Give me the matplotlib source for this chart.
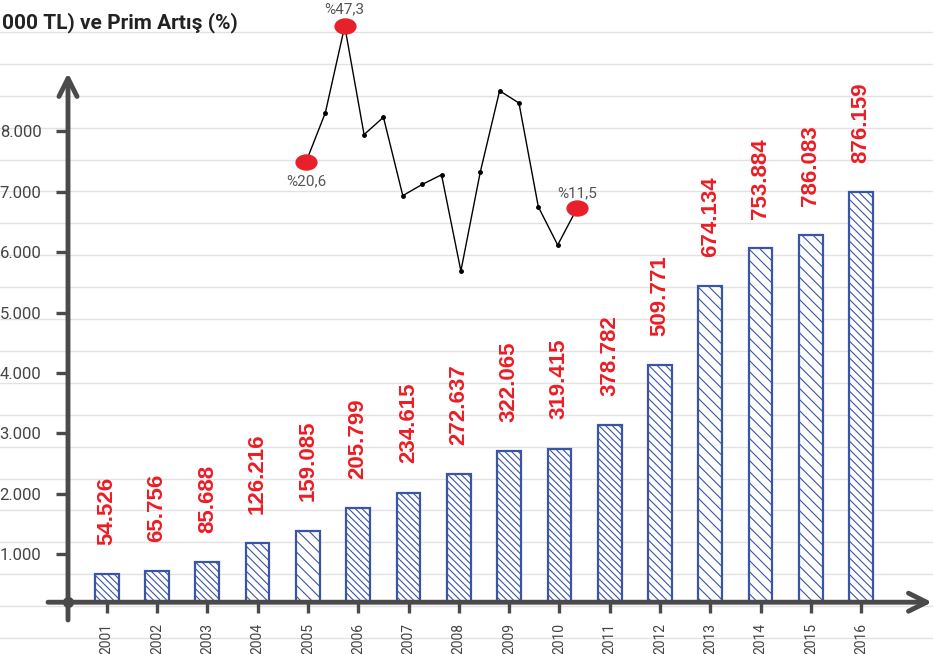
import matplotlib
matplotlib.use('Agg')
import matplotlib.pyplot as plt
from matplotlib import font_manager
from matplotlib.path import Path
from matplotlib.transforms import Affine2D

# data
years = list(range(2001, 2017))
bar_heights = [670, 720, 875, 1190, 1390, 1770, 2020, 2320, 2710, 2750,
               3140, 4130, 5445, 6075, 6285, 7000]
premiums = ['54.526', '65.756', '85.688', '126.216', '159.085', '205.799',
            '234.615', '272.637', '322.065', '319.415', '378.782', '509.771',
            '674.134', '753.884', '786.083', '876.159']
growth_years = list(range(2002, 2017))
growth = [20.6, 30.3, 47.3, 26.0, 29.4, 14.0, 16.2, 18.1, -0.8, 18.6,
          34.6, 32.2, 11.8, 4.3, 11.5]
highlight = [0, 2, 14]
y_ticks = [1000, 2000, 3000, 4000, 5000, 6000, 7000, 8000]
y_tick_labels = ['1.000', '2.000', '3.000', '4.000', '5.000', '6.000', '7.000', '8.000']
title = '000 TL) ve Prim Artış (%)'


def pick(names):
    for n in names:
        try:
            font_manager.findfont(n, fallback_to_default=False)
            return n
        except ValueError:
            pass
    return 'DejaVu Sans'


narrow = pick(['Liberation Sans Narrow', 'Roboto', 'Noto Sans'])
arial = pick(['Liberation Sans', 'Roboto'])

W, H = 933, 654
DARK = '#4a4a4a'
BLUE = '#3a55a6'
RED = '#ec1c24'

fig = plt.figure(figsize=(W / 100, H / 100), dpi=100)

# background notebook lines (pixel coordinates)
bg = fig.add_axes([0, 0, 1, 1])
bg.set_xlim(0, W)
bg.set_ylim(H, 0)
bg.axis('off')
for k in range(1, 21):
    bg.axhline(31.9 * k, color='#e2e2e2', lw=1)

# main bar axes, laid out so that bar i sits at x0 + i*dx pixels
x0, dx = 106.7, 50.3
y0, s = 614.6, 0.0604
ax = fig.add_axes([0, 0, 1, 1])
ax.patch.set_alpha(0)
ax.set_xlim(-x0 / dx, (W - x0) / dx)
ax.set_ylim((y0 - H) / s, y0 / s)

base = 205
yaxis_x = (68 - x0) / dx

hatches = ['\\\\\\\\\\', '\\\\\\\\\\', '\\\\\\\\\\', '\\\\\\\\', '\\\\\\',
           '\\\\\\\\\\', '\\\\\\\\\\', '\\\\\\\\\\', '\\\\\\\\\\', '\\\\\\\\\\',
           '\\\\\\\\\\', '\\\\\\\\', '\\\\\\', '\\\\\\', '\\\\\\', '\\\\\\\\']
plt.rcParams['hatch.linewidth'] = 0.8
bars = ax.bar(range(len(years)), [h - base for h in bar_heights], bottom=base,
              width=0.47, color='white', edgecolor=BLUE, linewidth=1.6, zorder=2)
for b, h in zip(bars, hatches):
    b.set_hatch(h)

for i, (h, lab) in enumerate(zip(bar_heights, premiums)):
    ax.annotate(lab, (i, h), xytext=(0, 21), textcoords='offset points',
                rotation=90, ha='center', va='bottom', color=RED,
                fontsize=16, fontweight='bold', family=arial)

for sp in ax.spines.values():
    sp.set_visible(False)
ax.spines['left'].set_position(('data', yaxis_x))
ax.spines['bottom'].set_position(('data', base))

ax.set_xticks(range(len(years)), [str(y) for y in years], rotation=90,
              family=narrow)
ax.set_yticks(y_ticks, y_tick_labels, family=narrow)
ax.tick_params(axis='x', direction='out', length=8, width=2.4, color=DARK,
               pad=7, labelsize=10, labelcolor='#444444')
ax.tick_params(axis='y', direction='out', length=9, width=2.4, color=DARK,
               pad=10, labelsize=12, labelcolor='#444444')

arrow = dict(arrowstyle='->,head_length=1.3,head_width=0.65', lw=3.5,
             color=DARK, shrinkA=0, shrinkB=0)
ax.annotate('', xy=(932 / W, base), xytext=(48 / W, base),
            xycoords=('axes fraction', 'data'), textcoords=('axes fraction', 'data'),
            arrowprops=arrow)
ax.annotate('', xy=(yaxis_x, 1 - 73 / H), xytext=(yaxis_x, 1 - 620 / H),
            xycoords=('data', 'axes fraction'), textcoords=('data', 'axes fraction'),
            arrowprops=arrow)
ax.plot(yaxis_x, base, 'o', ms=7, color=DARK, zorder=5)

# premium growth line
lx = fig.add_axes([0, 0, 1, 1])
lx.patch.set_alpha(0)
lx.axis('off')
px0, pdx = 306, 19.36
py0, ps = 266.9, 5.09
lx.set_xlim(2002 - px0 / pdx, 2002 + (W - px0) / pdx)
lx.set_ylim((py0 - H) / ps, py0 / ps)
lx.plot(growth_years, growth, color='black', lw=1, marker='o', ms=2.5)
blob = Path.unit_circle().transformed(Affine2D().scale(1.0, 0.72))
lx.plot([growth_years[i] for i in highlight], [growth[i] for i in highlight],
        marker=blob, ls='none', ms=15, color='#e8202a', zorder=3)
offsets = {0: -14, 2: 12, 14: 11}
for i in highlight:
    lx.annotate('%' + f'{growth[i]:.1f}'.replace('.', ','),
                (growth_years[i], growth[i]), xytext=(0, offsets[i]),
                textcoords='offset points', ha='center', va='center',
                fontsize=11, color='#555555', family=narrow)

fig.text(2 / W, 1 - 28 / H, title, ha='left', va='baseline',
         fontsize=15, fontweight='bold', family=narrow, color='#222222')

fig.savefig('out.png', dpi=100)
